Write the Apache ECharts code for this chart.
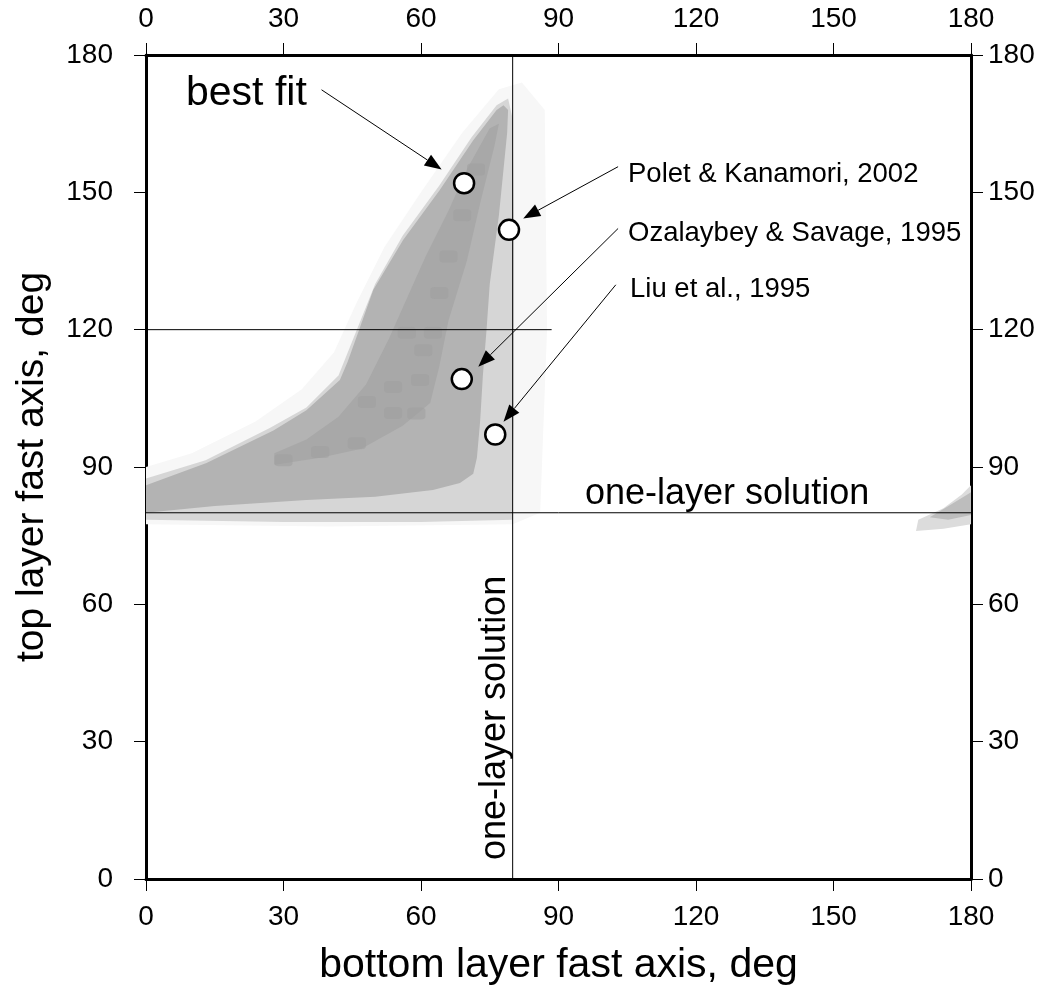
<!DOCTYPE html>
<html>
<head>
<meta charset="utf-8">
<script src="https://cdn.jsdelivr.net/npm/echarts@6/dist/echarts.min.js"></script>
<style>
  html, body { margin: 0; padding: 0; background: #fff; }
  #chart { width: 1047px; height: 994px; }
</style>
</head>
<body>
<div id="chart"></div>
<script>
const FONT = "'Liberation Sans', Arial, Helvetica, sans-serif";

// misfit shading outlines, [bottom layer deg, top layer deg]
const haloZone = [[0, 77.5], [40, 77], [80, 77.5], [86, 80], [87.5, 120], [87, 168], [82, 174], [77, 172.5], [69, 163], [60, 150], [52, 138], [46, 126], [41, 115], [34, 107], [24, 100], [10, 93], [0, 90]];
const lightZone = [[0, 78.5], [30, 78], [60, 78], [80, 78.5], [80.3, 100], [80.3, 140], [80, 166], [79, 170.5], [76.5, 169], [71, 162], [64, 151.5], [56, 140.5], [50, 130], [46, 120], [42, 110], [35, 103], [27, 98.5], [13, 91.5], [0, 87.5]];
const midZone = [[0, 80], [15, 81.5], [35, 82.8], [50, 83.5], [62.6, 85], [68.5, 86.5], [71.4, 88.5], [72.2, 92], [72.9, 100], [73.5, 110], [74.3, 120], [75, 130], [77, 145], [78, 155], [78.8, 163], [79, 168], [78, 169], [76.5, 168], [71.4, 161.4], [64.1, 150.5], [56.1, 139.6], [49.6, 128.7], [46.5, 120], [44, 113], [42.3, 109], [35, 102.4], [27.8, 98], [13.2, 90.9], [0, 86]];
const darkZone = [[28, 90.5], [38, 92], [47, 94], [56, 99], [62, 104], [64, 112], [66, 122], [70, 135], [73, 148], [76, 160], [77, 165], [75, 164], [70, 155], [66, 146], [61, 136], [57, 127], [53, 118], [48, 108], [42, 101], [35, 96], [28, 93]];
const wrapLight = [[168, 76], [168.5, 78.5], [174, 81], [178, 84], [180, 86], [180, 77.5], [174, 76.5]];
const wrapMid = [[171, 79], [176, 82], [180, 84.5], [180, 79.5], [175, 78.5]];
const darkSpots = [[48.2, 104.2], [53.9, 107.5], [59.8, 109], [46, 95.2], [38, 93.3], [30, 91.5], [53.9, 101.8], [59, 101.7], [60.5, 115.5], [56.9, 119.3], [62.6, 119.3], [64, 128], [66, 136], [69, 145], [72, 155]];

// one-layer solution and reference lines
const oneLayerV = [[80, 0], [80, 180]];
const oneLayerH = [[0, 80], [180, 80]];
const line120 = [[0, 120], [88.5, 120]];

// published solutions
const solutionNames = ["best fit", "Polet & Kanamori, 2002", "Ozalaybey & Savage, 1995", "Liu et al., 1995"];
const solutionX = [69.4, 79.2, 68.9, 76.2];
const solutionY = [152.0, 141.8, 109.2, 97.1];

// arrows: tail -> head
const arrowTail = [[38.3, 172.4], [103.0, 155.6], [103.0, 142.1], [102.5, 129.8]];
const arrowHead = [[64.5, 155.0], [82.3, 144.3], [72.5, 111.9], [78.0, 99.9]];

const chart = echarts.init(document.getElementById("chart"));

function zone(points, color, z) {
  return {
    type: "custom",
    coordinateSystem: "cartesian2d",
    silent: true,
    clip: true,
    z: z,
    data: points,
    renderItem: function (params, api) {
      if (params.dataIndex !== 0) return null;
      return {
        type: "polygon",
        shape: { points: points.map((p) => api.coord(p)) },
        style: { fill: color },
      };
    },
  };
}

function refLine(data) {
  return {
    type: "line",
    data: data,
    symbol: "none",
    silent: true,
    z: 5,
    lineStyle: { color: "#000", width: 1 },
  };
}

function axisBase(pos, margin) {
  return {
    type: "value",
    position: pos,
    min: 0,
    max: 180,
    interval: 30,
    axisLine: { show: true, onZero: false, lineStyle: { color: "#000", width: 3 } },
    axisTick: { show: true, inside: false, length: 12, lineStyle: { color: "#000", width: 1 } },
    axisLabel: { color: "#000", fontSize: 28, fontFamily: FONT, margin: margin },
    splitLine: { show: false },
  };
}

const xBottom = Object.assign(axisBase("bottom", 24), {
  name: "bottom layer fast axis, deg",
  nameLocation: "middle",
  nameGap: 66,
  nameTextStyle: { color: "#000", fontSize: 41, fontFamily: FONT },
});
const xTop = axisBase("top", 22);
const yLeft = Object.assign(axisBase("left", 33), {
  name: "top layer fast axis, deg",
  nameLocation: "middle",
  nameGap: 94,
  nameTextStyle: { color: "#000", fontSize: 39, fontFamily: FONT },
});
const yRight = axisBase("right", 17);

const annotationStyle = { fontSize: 27.5, fontFamily: FONT, fill: "#000", verticalAlign: "middle" };

const option = {
  backgroundColor: "#fff",
  animation: false,
  grid: { left: 146, right: 76, top: 55, bottom: 115 },
  xAxis: [xBottom, xTop],
  yAxis: [yLeft, yRight],
  graphic: [
    { type: "text", x: 186, y: 94, z: 20, style: { text: solutionNames[0], fontSize: 41, fontFamily: FONT, fill: "#000", verticalAlign: "middle" } },
    { type: "text", x: 628, y: 174, z: 20, style: Object.assign({ text: solutionNames[1] }, annotationStyle) },
    { type: "text", x: 628, y: 233, z: 20, style: Object.assign({ text: solutionNames[2] }, annotationStyle) },
    { type: "text", x: 630, y: 289, z: 20, style: Object.assign({ text: solutionNames[3] }, annotationStyle) },
    { type: "text", x: 585, y: 494, z: 20, style: { text: "one-layer solution", fontSize: 36, fontFamily: FONT, fill: "#000", verticalAlign: "middle" } },
    { type: "text", x: 495, y: 860, rotation: Math.PI / 2, z: 20, style: { text: "one-layer solution", fontSize: 36, fontFamily: FONT, fill: "#000", verticalAlign: "middle" } },
  ],
  series: [
    zone(haloZone, "#f7f7f7", 1),
    zone(lightZone, "#d6d6d6", 2),
    zone(midZone, "#b3b3b3", 3),
    zone(darkZone, "#a8a8a8", 3),
    zone(wrapLight, "#dcdcdc", 2),
    zone(wrapMid, "#bdbdbd", 3),
    {
      type: "scatter",
      data: darkSpots,
      symbol: "roundRect",
      symbolSize: [18, 12],
      silent: true,
      z: 4,
      itemStyle: { color: "#9e9e9e", opacity: 0.55 },
    },
    refLine(oneLayerV),
    refLine(oneLayerH),
    refLine(line120),
    {
      type: "custom",
      coordinateSystem: "cartesian2d",
      silent: true,
      z: 6,
      data: arrowTail.map((t, i) => [t[0], t[1], arrowHead[i][0], arrowHead[i][1]]),
      renderItem: function (params, api) {
        const a = api.coord([api.value(0), api.value(1)]);
        const b = api.coord([api.value(2), api.value(3)]);
        const ang = Math.atan2(b[1] - a[1], b[0] - a[0]);
        const len = 17, half = 6.5;
        const base = [b[0] - len * Math.cos(ang), b[1] - len * Math.sin(ang)];
        const nx = -Math.sin(ang), ny = Math.cos(ang);
        return {
          type: "group",
          children: [
            { type: "line", shape: { x1: a[0], y1: a[1], x2: base[0], y2: base[1] }, style: { stroke: "#000", lineWidth: 1 } },
            {
              type: "polygon",
              shape: { points: [b, [base[0] + nx * half, base[1] + ny * half], [base[0] - nx * half, base[1] - ny * half]] },
              style: { fill: "#000" },
            },
          ],
        };
      },
    },
    {
      type: "scatter",
      name: "solutions",
      data: solutionX.map((x, i) => [x, solutionY[i]]),
      symbol: "circle",
      symbolSize: 20,
      z: 10,
      itemStyle: { color: "#fff", borderColor: "#000", borderWidth: 2.5, opacity: 1 },
    },
  ],
};

chart.setOption(option);
</script>
</body>
</html>
